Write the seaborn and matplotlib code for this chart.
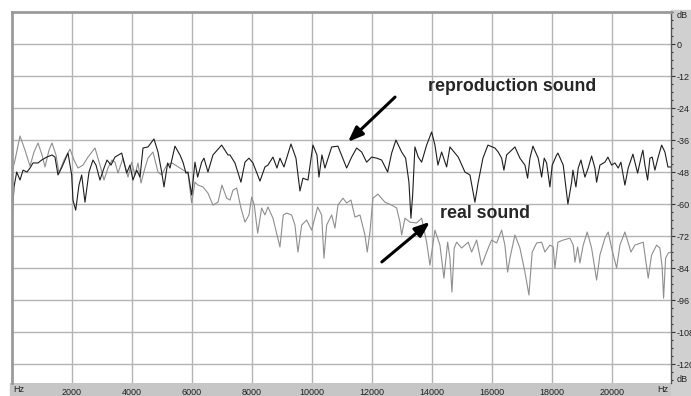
import matplotlib
matplotlib.use("Agg")
import matplotlib.pyplot as plt
from matplotlib.patches import Rectangle
from matplotlib.ticker import MultipleLocator
import seaborn as sns

repro_hz = [10, 67, 157, 267, 367, 500, 600, 700, 867, 990, 1157, 1333, 1433, 1533, 1667,
            1767, 1867, 1990, 2033, 2123, 2233, 2323, 2433, 2567, 2700, 2800, 2933, 3067,
            3167, 3300, 3433, 3657, 3823, 3933, 4033, 4157, 4267, 4367, 4533, 4733, 4867,
            4990, 5067, 5190, 5267, 5433, 5600, 5700, 5800, 5867, 5990, 6100, 6190, 6323,
            6400, 6533, 6700, 6990, 7200, 7267, 7433, 7633, 7767, 7900, 8033, 8267, 8433,
            8533, 8700, 8833, 8933, 9067, 9300, 9467, 9600, 9700, 9867, 10033, 10167, 10233,
            10333, 10433, 10657, 10867, 11157, 11323, 11490, 11657, 11823, 11990, 12157,
            12323, 12523, 12657, 12800, 12990, 13123, 13233, 13300, 13357, 13433, 13543,
            13657, 13823, 13990, 14100, 14200, 14323, 14490, 14600, 14877, 15100, 15267,
            15433, 15543, 15700, 15867, 16100, 16210, 16323, 16400, 16490, 16767, 16933,
            17100, 17190, 17267, 17367, 17543, 17657, 17743, 17823, 17933, 18010, 18157,
            18200, 18377, 18533, 18657, 18700, 18800, 18877, 18967, 19100, 19210, 19323,
            19433, 19490, 19600, 19767, 19867, 19990, 20100, 20210, 20300, 20433, 20543,
            20700, 20857, 20990, 21033, 21100, 21190, 21267, 21343, 21433, 21543, 21657,
            21767, 21867, 21967]
repro_db = [-64.1, -53.6, -48, -51, -47.3, -48, -46.5, -44.6, -44.6, -43.5, -42.4, -41.6,
            -42.4, -49.1, -46.1, -43.5, -40.9, -49.1, -58.5, -62.3, -52.9, -49.1, -59.3, -48,
            -43.5, -45.4, -51, -46.5, -43.5, -45.4, -42.4, -40.9, -48.4, -45.4, -51, -47.3,
            -49.9, -39, -38.6, -35.6, -40.5, -48, -53.6, -44.6, -46.5, -38.3, -41.6, -44.3,
            -48.4, -48, -56.6, -44.3, -49.9, -44.3, -42.8, -48, -41.6, -37.9, -41.6, -41.6,
            -44.6, -51.8, -44.3, -42.8, -44.6, -51.4, -46.1, -45.4, -42.4, -46.5, -42.8,
            -46.1, -37.5, -42.8, -55.1, -50.3, -51, -37.9, -41.6, -49.9, -41.6, -46.5, -38.6,
            -38.3, -46.5, -42.4, -39, -40.5, -44.3, -42.4, -42.8, -43.5, -48, -40.9, -36,
            -40.5, -42.8, -51.8, -65.3, -56.6, -38.6, -42.4, -44.3, -37.9, -33, -37.9, -45.4,
            -40.5, -46.1, -38.6, -42.4, -48, -49.1, -59.3, -51.8, -42.8, -37.9, -39, -40.5,
            -42.8, -47.3, -41.6, -38.6, -42.8, -45.4, -50.3, -42.8, -38.3, -42.8, -49.9,
            -42.8, -44.6, -53.6, -45.4, -41.6, -40.9, -45.4, -60, -51.8, -47.3, -53.6, -46.5,
            -43.5, -49.9, -46.5, -42, -46.5, -51.8, -45.4, -44.3, -42.4, -45.4, -44.6, -46.5,
            -44.3, -52.9, -46.5, -41.3, -48.4, -41.6, -39.8, -45.4, -51, -42.8, -42.4, -47.3,
            -42.4, -37.9, -40.5, -46.1, -46.1]

real_hz = [17, 100, 267, 433, 600, 733, 867, 1000, 1100, 1233, 1333, 1467, 1567, 1733,
           1933, 2067, 2200, 2367, 2533, 2767, 2933, 3067, 3200, 3333, 3433, 3533, 3700,
           3867, 3990, 4100, 4200, 4300, 4433, 4533, 4700, 4867, 4990, 5157, 5333, 5600,
           5867, 5990, 6100, 6200, 6367, 6533, 6700, 6867, 7000, 7157, 7267, 7367, 7490,
           7633, 7767, 7900, 7990, 8077, 8190, 8323, 8433, 8533, 8700, 8933, 9043, 9157,
           9323, 9433, 9533, 9657, 9823, 9990, 10190, 10323, 10400, 10490, 10657, 10767,
           10867, 11033, 11157, 11300, 11433, 11600, 11767, 11843, 11933, 12033, 12200,
           12433, 12657, 12823, 12933, 12990, 13100, 13267, 13490, 13657, 13823, 13933,
           14100, 14267, 14400, 14523, 14600, 14667, 14743, 14823, 14990, 15210, 15323,
           15490, 15657, 15877, 15990, 16157, 16323, 16433, 16523, 16600, 16767, 16933,
           17100, 17233, 17343, 17490, 17657, 17767, 17933, 18043, 18100, 18200, 18377,
           18600, 18710, 18767, 18857, 18933, 19043, 19177, 19323, 19490, 19600, 19767,
           19877, 19990, 20157, 20267, 20433, 20567, 20633, 20767, 21043, 21210, 21323,
           21490, 21600, 21677, 21723, 21790, 21877, 21967]
real_db = [-47.3, -43.5, -34.5, -39.8, -45.8, -40.5, -37.1, -41.6, -46.1, -39.8, -37.1,
           -41.6, -48.4, -43.5, -39.4, -43.5, -46.5, -45.4, -42.4, -39, -45.4, -51, -46.5,
           -43.5, -44.3, -48.4, -42.8, -49.9, -44.3, -49.1, -44.6, -52.1, -46.5, -42.8,
           -40.5, -48, -49.1, -45.4, -44.6, -46.5, -48.4, -59.6, -51.8, -52.9, -53.6, -55.9,
           -60.4, -59.3, -52.9, -57.8, -58.5, -54.8, -54, -61.5, -66.8, -64.1, -57.4, -60.4,
           -70.9, -61.5, -64.1, -61.1, -65.3, -76.1, -64.1, -63.4, -64.1, -67.9, -78, -67.9,
           -66, -69.8, -61.1, -64.1, -80.3, -67.9, -64.1, -69, -60.4, -57.8, -59.6, -58.5,
           -64.9, -64.1, -71.6, -78, -70.5, -57.8, -56.3, -59.3, -60.4, -61.5, -66.8, -71.6,
           -65.3, -66.8, -67.1, -65.3, -74.3, -82.9, -69.8, -75.4, -87.8, -74.3, -80.3, -93,
           -76.5, -74.3, -76.5, -74.3, -78, -73.5, -82.9, -76.5, -73.5, -74.6, -69.8, -75.4,
           -85.5, -80.3, -71.6, -76.5, -85.5, -94.1, -78, -74.6, -74.3, -78, -75.4, -76.1,
           -84, -74.3, -73.5, -72.8, -75.4, -81.8, -76.1, -82.1, -75.4, -70.5, -76.5, -88.5,
           -79.1, -72.8, -70.5, -76.5, -84, -75.4, -70.5, -75.4, -78, -75.4, -74.3, -87.8,
           -79.1, -75.4, -76.5, -84, -95.3, -80.3, -78.4, -78]

x_ticks = [2000, 4000, 6000, 8000, 10000, 12000, 14000, 16000, 18000, 20000]
y_ticks = [0, -12, -24, -36, -48, -60, -72, -84, -96, -108, -120]

sns.set_style("white")
plt.rcParams['font.family'] = ['Liberation Sans', 'DejaVu Sans']

W, H = 691, 396
fig = plt.figure(figsize=(W / 100, H / 100), dpi=100)
fig.patch.set_facecolor("white")

# bandeaux gris (echelles), sous les axes
fig.patches.append(Rectangle((10 / W, 0), 1, 13 / H, transform=fig.transFigure,
                             color="#c6c6c6", zorder=-5))
fig.patches.append(Rectangle((671 / W, 0), 1, (H - 10) / H, transform=fig.transFigure,
                             color="#d0d0d0", zorder=-5))

ax = fig.add_axes([12 / W, 13 / H, 659 / W, 371 / H])
ax.set_facecolor("white")

sns.lineplot(x=real_hz, y=real_db, ax=ax, color="#8e8e8e", lw=0.8,
             estimator=None, sort=False)
sns.lineplot(x=repro_hz, y=repro_db, ax=ax, color="#1e1e1e", lw=0.8,
             estimator=None, sort=False)

ax.set_xlim(0, 21970)
ax.set_ylim(-127.1, 12)

ax.set_xticks(x_ticks)
ax.set_xticklabels([str(t) for t in x_ticks])
ax.xaxis.set_minor_locator(MultipleLocator(1000))
ax.yaxis.tick_right()
ax.set_yticks(y_ticks)
ax.set_yticklabels([str(t) for t in y_ticks])
ax.yaxis.set_minor_locator(MultipleLocator(3))

ax.grid(True, which="major", color="#b4b4b4", lw=1)
ax.set_axisbelow(True)
ax.tick_params(axis="x", which="major", direction="out", length=3, width=0.8,
               color="#333333", pad=0.5, labelsize=6.5, labelcolor="#222222")
ax.tick_params(axis="x", which="minor", direction="out", length=1.5, width=0.8,
               color="#333333")
ax.tick_params(axis="y", which="major", direction="out", length=3, width=0.8,
               color="#333333", pad=1, labelsize=6.5, labelcolor="#222222")
ax.tick_params(axis="y", which="minor", direction="out", length=1.5, width=0.8,
               color="#333333")

for side in ["top", "left"]:
    ax.spines[side].set_color("#9a9a9a")
    ax.spines[side].set_linewidth(2)
ax.spines["right"].set_color("#555555")
ax.spines["right"].set_linewidth(1)
ax.spines["bottom"].set_visible(False)

# unites
fig.text(13 / W, 6.5 / H, "Hz", fontsize=6.5, color="#222222", va="center", ha="left")
fig.text(668 / W, 6.5 / H, "Hz", fontsize=6.5, color="#222222", va="center", ha="right")
fig.text(677 / W, (H - 16) / H, "dB", fontsize=6.5, color="#222222", va="center")
fig.text(677 / W, (H - 380) / H, "dB", fontsize=6.5, color="#222222", va="center")

# annotations
arrow = dict(arrowstyle="-|>,head_length=0.9,head_width=0.35", lw=2.2,
             color="black", shrinkA=0, shrinkB=0)
ax.annotate("", xy=(11200, -36.7), xytext=(12770, -19.9), arrowprops=arrow)
ax.annotate("", xy=(13930, -66.7), xytext=(12330, -81.7), arrowprops=arrow)
ax.text(13870, -16.1, "reproduction sound", fontsize=12.8, fontweight="bold",
        ha="left", va="center")
ax.text(14270, -63.4, "real sound", fontsize=12.8, fontweight="bold",
        ha="left", va="center")

fig.savefig("out.png", dpi=100)
